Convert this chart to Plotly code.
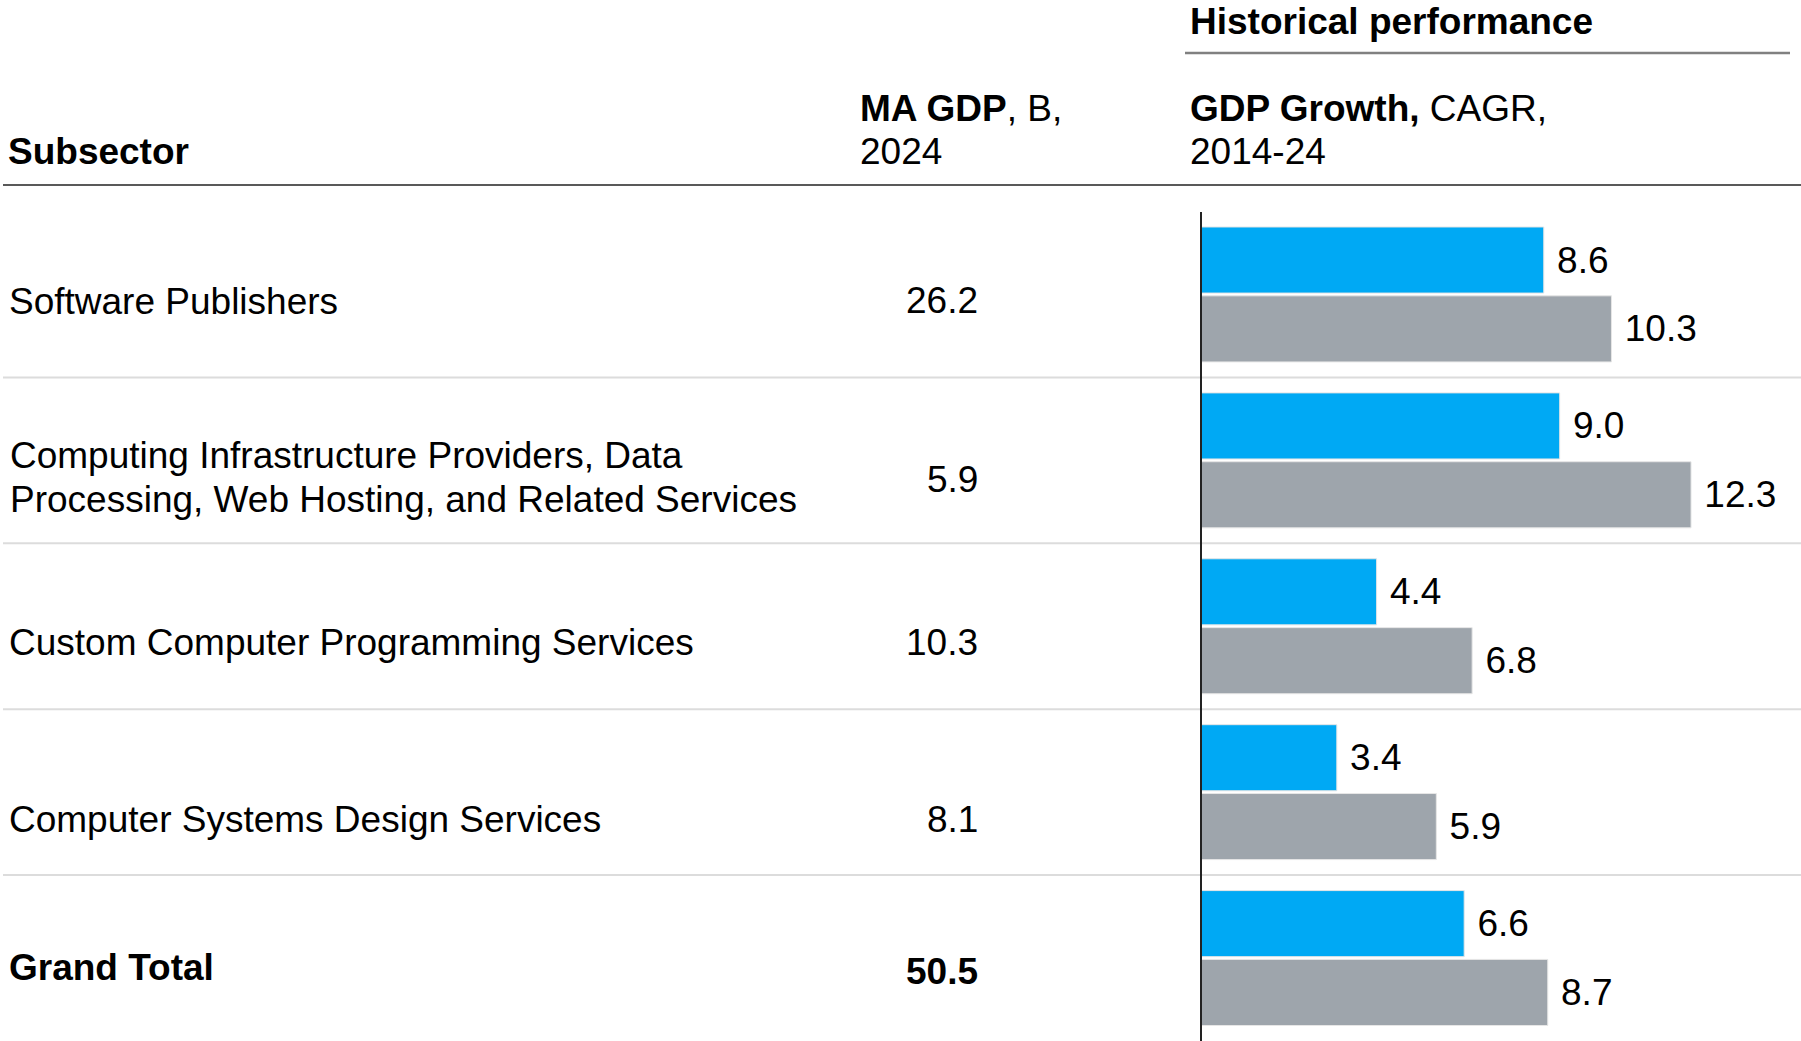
import plotly.graph_objects as go

# ---------------- data ----------------
subsectors = [
    "Software Publishers",
    "Computing Infrastructure Providers, Data<br>Processing, Web Hosting, and Related Services",
    "Custom Computer Programming Services",
    "Computer Systems Design Services",
    "Grand Total",
]
ma_gdp_b_2024 = [26.2, 5.9, 10.3, 8.1, 50.5]
ma_cagr_2014_24 = [8.6, 9.0, 4.4, 3.4, 6.6]
us_cagr_2014_24 = [10.3, 12.3, 6.8, 5.9, 8.7]
bold_rows = [False, False, False, False, True]

# ---------------- layout constants ----------------
W, H = 1801, 1041
FONT = "Liberation Sans, Arial, sans-serif"
FS = 37
BLUE = "#00A9F4"
GREY = "#9EA5AC"

def px_x(p):
    return p / W

def px_y(p):
    return 1 - p / H

plot_top_px = 211.5
axis_left_px = 1201.5
px_per_unit = 39.8
x_max = (W - axis_left_px) / px_per_unit

label_dy = [7, 17, 16, 27, 9]      # px below row centre for subsector text
value_dy = [6, 19, 16, 27, 13]     # px below row centre for MA GDP values
line_gap = 44                      # px between wrapped lines

rows = list(range(len(subsectors)))

fig = go.Figure()
fig.add_trace(go.Bar(
    y=rows, x=ma_cagr_2014_24, orientation="h", name="MA",
    marker=dict(color=BLUE, line=dict(color="#e6e6e6", width=1)),
    text=ma_cagr_2014_24, texttemplate="\u00a0%{x:.1f}", textposition="outside",
    outsidetextfont=dict(family=FONT, size=FS, color="black"),
    constraintext="none", cliponaxis=False, hoverinfo="skip",
))
fig.add_trace(go.Bar(
    y=rows, x=us_cagr_2014_24, orientation="h", name="US",
    marker=dict(color=GREY, line=dict(color="#e6e6e6", width=1)),
    text=us_cagr_2014_24, texttemplate="\u00a0%{x:.1f}", textposition="outside",
    outsidetextfont=dict(family=FONT, size=FS, color="black"),
    constraintext="none", cliponaxis=False, hoverinfo="skip",
))

ann = []
def add_text(text, x_px, y_px, anchor="left", ref_row=None, dy=0):
    d = dict(text=text, showarrow=False, xref="paper", x=px_x(x_px),
             xanchor=anchor, yanchor="middle", borderpad=0, borderwidth=0,
             font=dict(family=FONT, size=FS, color="black"))
    if ref_row is None:
        d.update(yref="paper", y=px_y(y_px))
    else:
        d.update(yref="y", y=ref_row, yshift=-dy)
    ann.append(d)

# headers
add_text("<b>Historical performance</b>", 1190, 22)
add_text("<b>MA GDP</b>, B,", 860, 108)
add_text("2024", 860, 152)
add_text("<b>GDP Growth,</b> CAGR,", 1190, 108)
add_text("2014-24", 1190, 152)
add_text("<b>Subsector</b>", 8, 152)

# rows
for i, (name, val) in enumerate(zip(subsectors, ma_gdp_b_2024)):
    lines = name.split("<br>")
    n = len(lines)
    for k, ln in enumerate(lines):
        off = (k - (n - 1) / 2) * line_gap
        t = f"<b>{ln}</b>" if bold_rows[i] else ln
        add_text(t, 9 if n == 1 else 10, 0, ref_row=i, dy=label_dy[i] + off)
    v = f"{val:.1f}"
    add_text(f"<b>{v}</b>" if bold_rows[i] else v, 978, 0, anchor="right",
             ref_row=i, dy=value_dy[i])

shapes = []
# grey rule under "Historical performance"
shapes.append(dict(type="line", xref="paper", yref="paper",
                   x0=px_x(1185), x1=px_x(1790), y0=px_y(53), y1=px_y(53),
                   line=dict(color="#808080", width=2.5)))
# black header rule
shapes.append(dict(type="line", xref="paper", yref="paper",
                   x0=px_x(3), x1=1, y0=px_y(185), y1=px_y(185),
                   line=dict(color="#222222", width=1.5)))
# row separators
for i in rows[:-1]:
    shapes.append(dict(type="line", xref="paper", yref="y",
                       x0=px_x(3), x1=1, y0=i + 0.5, y1=i + 0.5,
                       line=dict(color="#dcdcdc", width=2), layer="below"))

fig.update_layout(
    width=W, height=H, margin=dict(l=0, r=0, t=0, b=0),
    paper_bgcolor="white", plot_bgcolor="white",
    barmode="group", bargap=0.17, bargroupgap=0.04,
    showlegend=False,
    font=dict(family=FONT, size=FS, color="black"),
    xaxis=dict(domain=[px_x(axis_left_px), 1], range=[0, x_max],
               showgrid=False, zeroline=False, showticklabels=False,
               showline=False, fixedrange=True),
    yaxis=dict(domain=[0, px_y(plot_top_px)], range=[len(rows) - 0.5, -0.5],
               showgrid=False, zeroline=False, showticklabels=False,
               showline=True, linecolor="#222222", linewidth=1.5,
               fixedrange=True),
    annotations=ann, shapes=shapes,
)

fig.write_html("out.html", config={"displayModeBar": False},
               post_script="document.body.style.margin='0';document.body.style.overflow='hidden';")
